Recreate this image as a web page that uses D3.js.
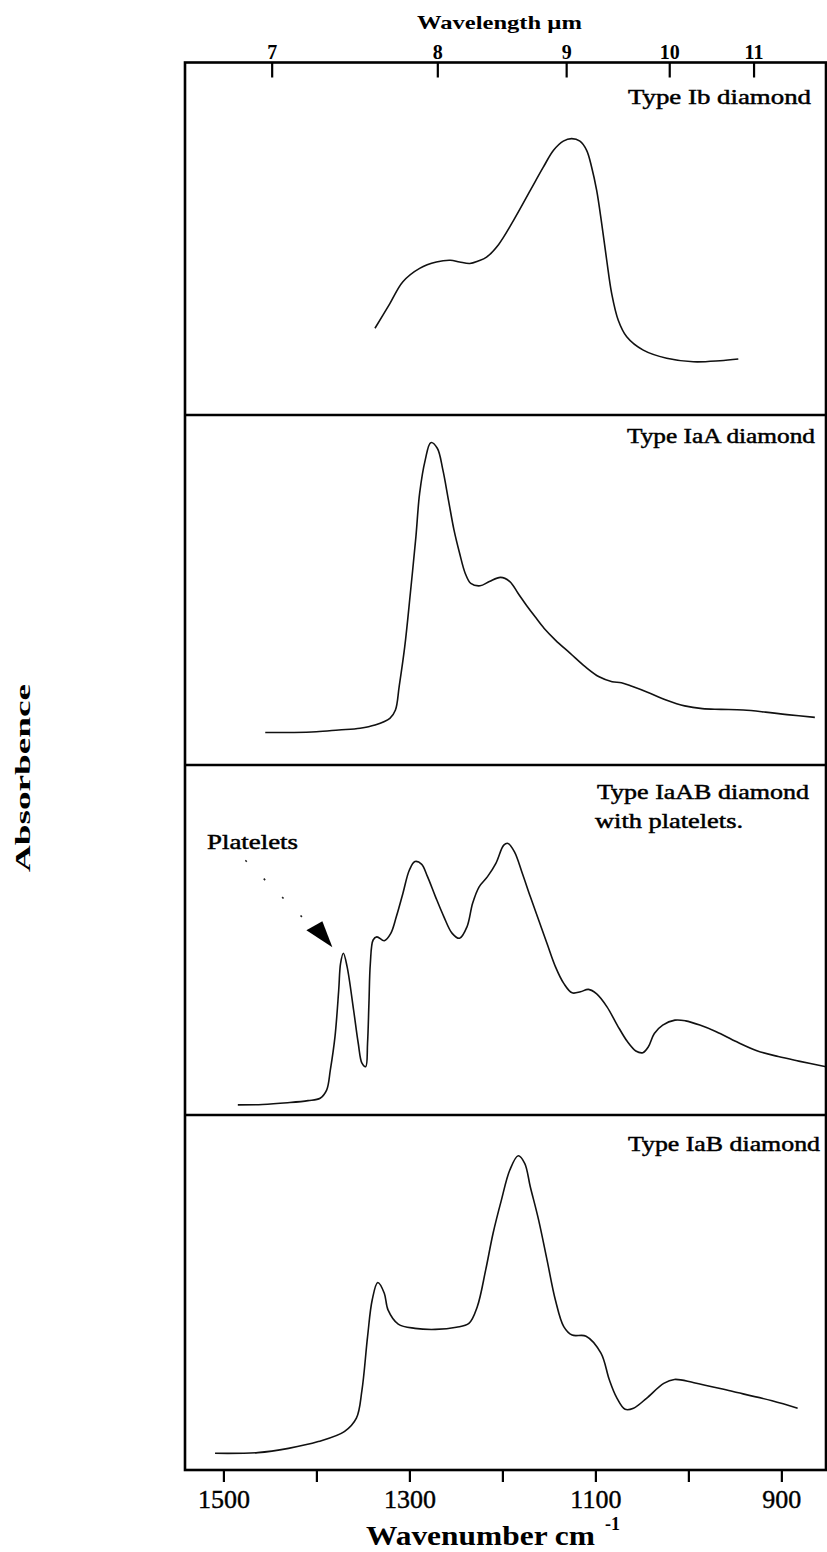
<!DOCTYPE html>
<html><head><meta charset="utf-8">
<script src="https://cdn.jsdelivr.net/npm/d3@7"></script>
<style>
html,body{margin:0;padding:0;background:#fff;}
svg{display:block;}
</style></head>
<body><svg id="chart" width="827" height="1552"></svg>
<script>
// Wavenumber axis (cm^-1)
const wavenumberTicks = [1500, 1400, 1300, 1200, 1100, 1000, 900];
const wavenumberLabels = [1500, 1300, 1100, 900];
// Wavelength axis (µm)
const wavelengthTicks = [7, 8, 9, 10, 11];

const panelNames = ["Type Ib diamond", "Type IaA diamond", "Type IaAB diamond", "Type IaB diamond"];

// Absorbance traces, relative units (0-100 of each panel height)
const ibWavenumber = [1337,1321,1307,1289,1271,1256,1246,1235,1226,1217,1204,1188,1170,1156,1145,1134.5,1125.5,1116.6,1109.4,1104,1098.6,1093.2,1087.8,1082.5,1075.4,1066.3,1048.5,1023.3,994.7,966,946.3];
const ibAbsorbance = [24.6,31.6,37.8,41.6,43.4,43.9,43.4,43.0,43.7,44.8,48.4,55.2,63.7,70.3,75.1,77.7,78.4,77.7,75.1,70.3,63.7,54.3,43.9,34.5,26.9,22.2,18.4,16.1,15.1,15.4,15.9];

const iaaWavenumber = [1455,1424,1400,1376,1353,1337,1321,1315,1311,1305,1299,1293,1289,1283,1277,1270,1264,1258,1252,1246,1240,1234,1224,1214,1202,1192,1183,1173,1165,1155,1143,1127,1111,1096,1082,1072,1060,1044,1024,1004,985,965,941,917,894,864];
const iaaAbsorbance = [9.3,9.3,9.5,10.0,10.5,11.4,13.3,15.7,22.4,33.8,49.0,65.2,77.6,87.1,92.1,90.5,84.3,75.7,67.1,60.5,54.8,51.9,51.2,52.4,53.6,52.4,49.0,45.2,42.4,39.0,35.7,31.9,28.1,25.2,23.8,23.5,22.4,20.8,18.6,16.9,16.1,15.9,15.7,15.1,14.4,13.6];

const iaabWavenumber = [1484.5,1458,1431,1409,1396,1389,1385,1380,1376,1374,1371,1367,1360,1355,1351,1347,1345,1343.5,1342,1339,1335,1327,1320,1314,1307,1300,1294,1287,1280.5,1272,1263,1254,1246,1238,1232,1225,1216,1207,1198.5,1194,1187,1178.5,1170,1161,1152,1143,1134,1125,1116,1107.5,1098.6,1087.5,1076.5,1065.4,1056.5,1049,1043,1036.6,1027.6,1014.4,1003,987.7,970,948,925.6,903.4,881.3,852];
const iaabAbsorbance = [2.9,3.0,3.5,4.1,4.8,7.1,12.9,22.4,35.7,43.3,46.2,42.4,30.0,20.5,14.8,13.8,20.5,31.9,43.3,50.0,50.9,49.8,51.9,56.7,63.3,70.0,72.4,71.7,68.1,62.4,56.7,51.9,50.5,53.8,60.5,65.2,68.1,71.9,77.1,77.6,75.2,69.0,62.4,55.7,49.0,42.4,37.6,34.9,35.2,35.9,34.6,30.9,25.7,20.9,18.3,17.8,19.5,23.3,25.7,27.1,26.9,25.7,23.8,20.9,18.3,16.7,15.4,13.8];

const iabWavenumber = [1509,1463,1430,1398,1370,1357,1351,1345,1340,1334,1327,1323,1312,1294,1272,1249.5,1236,1227,1218,1210,1201,1192,1183,1176,1170,1161,1152,1143,1134,1125,1110,1094,1085,1077.5,1068,1059,1045,1026.5,1015,994,952,910,882.5];
const iabAbsorbance = [4.7,4.9,6.1,8.0,10.8,14.6,22.5,37.5,47.9,52.8,49.8,45.1,41.1,39.9,39.6,40.2,41.3,46.0,56.3,66.7,76.1,84.5,88.5,86.4,79.8,70.4,59.2,47.9,40.4,38.0,37.7,32.9,25.4,20.6,17.1,17.4,20.2,24.4,25.5,24.6,22.1,19.5,17.4];

// Platelet peak marker position
const plateletPeak = 1371;

const seriesList = [
  [ibWavenumber, ibAbsorbance],
  [iaaWavenumber, iaaAbsorbance],
  [iaabWavenumber, iaabAbsorbance],
  [iabWavenumber, iabAbsorbance]
];

const svg = d3.select("#chart");
const serif = "'Liberation Serif','Times New Roman',Times,serif";

const frame = {left: 185, right: 826, top: 62.5, bottom: 1470};
const panelEdges = [frame.top, 415, 765, 1115, frame.bottom];

const x = d3.scaleLinear().domain([1541.3, 852]).range([frame.left, frame.right]);
// wavelength axis drawn on its own reciprocal calibration
const xTop = d3.scaleLinear().domain([1522, 831]).range([frame.left, frame.right]);

const yScales = panelEdges.slice(0, 4).map((top, i) =>
  d3.scaleLinear().domain([0, 100]).range([panelEdges[i + 1], top]));

// traces
const line = d3.line().curve(d3.curveCatmullRom.alpha(0.5));
seriesList.forEach(([wn, ab], i) => {
  const pts = wn.map((w, j) => [x(w), yScales[i](ab[j])]);
  svg.append("path")
    .attr("d", line(pts))
    .attr("fill", "none")
    .attr("stroke", "#111")
    .attr("stroke-width", 1.6)
    .attr("stroke-linejoin", "round");
});

// frame and panel separators
svg.append("rect")
  .attr("x", frame.left).attr("y", frame.top)
  .attr("width", frame.right - frame.left).attr("height", frame.bottom - frame.top)
  .attr("fill", "none").attr("stroke", "#000").attr("stroke-width", 2.6);
panelEdges.slice(1, 4).forEach(yy => {
  svg.append("line")
    .attr("x1", frame.left).attr("x2", frame.right)
    .attr("y1", yy).attr("y2", yy)
    .attr("stroke", "#000").attr("stroke-width", 2.4);
});

// bottom wavenumber axis
const bottomAxis = d3.axisBottom(x)
  .tickValues(wavenumberTicks)
  .tickFormat(d => wavenumberLabels.includes(d) ? d : "")
  .tickSize(12).tickPadding(8);
const gb = svg.append("g").attr("transform", `translate(0,${frame.bottom})`).call(bottomAxis);
gb.select(".domain").remove();
gb.selectAll(".tick line").attr("stroke", "#000").attr("stroke-width", 2.2);
gb.selectAll(".tick text").attr("font-family", serif).attr("font-size", 26).attr("fill", "#000")
  .attr("stroke", "#000").attr("stroke-width", 0.4);

// top wavelength axis, ticks pointing into the plot
const topAxis = d3.axisTop(xTop)
  .tickValues(wavelengthTicks.map(l => 10000 / l))
  .tickFormat(d => Math.round(10000 / d))
  .tickSizeInner(-15).tickSizeOuter(0).tickPadding(4);
const gt = svg.append("g").attr("transform", `translate(0,${frame.top})`).call(topAxis);
gt.select(".domain").remove();
gt.selectAll(".tick line").attr("stroke", "#000").attr("stroke-width", 2.2);
gt.selectAll(".tick text").attr("font-family", serif).attr("font-size", 20)
  .attr("font-weight", "bold").attr("fill", "#000");

// axis titles
svg.append("text")
  .attr("x", 417).attr("y", 29)
  .attr("font-family", serif).attr("font-size", 19).attr("font-weight", "bold")
  .attr("textLength", 165).attr("lengthAdjust", "spacingAndGlyphs")
  .text("Wavelength µm");

svg.append("text")
  .attr("x", 366).attr("y", 1545)
  .attr("font-family", serif).attr("font-size", 28).attr("font-weight", "bold")
  .attr("textLength", 229).attr("lengthAdjust", "spacingAndGlyphs")
  .text("Wavenumber cm");
svg.append("text")
  .attr("x", 605).attr("y", 1530)
  .attr("font-family", serif).attr("font-size", 18).attr("font-weight", "bold")
  .text("-1");

svg.append("text")
  .attr("transform", "translate(30,778) rotate(-90)")
  .attr("text-anchor", "middle")
  .attr("font-family", serif).attr("font-size", 22).attr("font-weight", "bold")
  .attr("textLength", 188).attr("lengthAdjust", "spacingAndGlyphs")
  .text("Absorbence");

// panel labels
const labelSpecs = [
  {text: panelNames[0], x: 628, y: 104, w: 183},
  {text: panelNames[1], x: 627, y: 443, w: 188},
  {text: panelNames[2], x: 597, y: 799, w: 212},
  {text: "with platelets.", x: 595, y: 828, w: 148},
  {text: panelNames[3], x: 628, y: 1151, w: 192},
  {text: "Platelets", x: 207, y: 849, w: 91}
];
labelSpecs.forEach(s => {
  svg.append("text")
    .attr("x", s.x).attr("y", s.y)
    .attr("font-family", serif).attr("font-size", 20)
    .attr("stroke", "#000").attr("stroke-width", 0.45)
    .attr("textLength", s.w).attr("lengthAdjust", "spacingAndGlyphs")
    .text(s.text);
});

// arrow marking the platelet peak, with dotted leader from the label
const px = x(plateletPeak);
const py = yScales[2](iaabAbsorbance[iaabWavenumber.indexOf(plateletPeak)]);
svg.append("line")
  .attr("x1", px - 98).attr("y1", py - 93)
  .attr("x2", px - 40).attr("y2", py - 35)
  .attr("stroke", "#222").attr("stroke-width", 1.6)
  .attr("stroke-dasharray", "2 24");
svg.append("path")
  .attr("d", d3.line()([[px - 11, py - 6], [px - 37, py - 23], [px - 21, py - 32]]) + "Z")
  .attr("fill", "#000");
</script>
</body></html>
